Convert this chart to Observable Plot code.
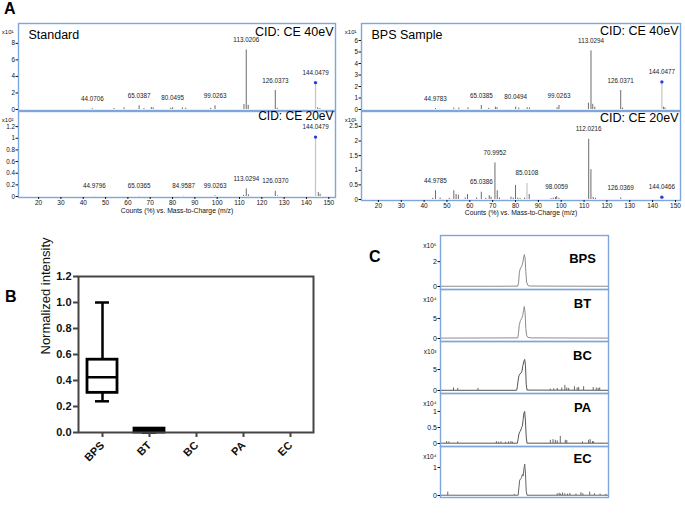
<!DOCTYPE html>
<html><head><meta charset="utf-8">
<script src="https://cdn.jsdelivr.net/npm/d3@7"></script>
<script src="https://cdn.jsdelivr.net/npm/@observablehq/plot@0.6"></script>
<style>
body{margin:0;background:#fff;}
#root{position:relative;width:685px;height:515px;overflow:hidden;font-family:"Liberation Sans",Arial,sans-serif;background:#fff;}
#root svg{position:absolute;}
.plabel{position:absolute;font-weight:bold;font-size:16px;line-height:16px;color:#000;}
</style></head><body><div id="root">
<div class="plabel" style="left:4px;top:1px">A</div>
<div class="plabel" style="left:5px;top:289px">B</div>
<div class="plabel" style="left:369px;top:249px">C</div>
</div>
<script>
// ---------- Panel A data (MS/MS spectra) ----------
const mzTicks = [20,30,40,50,60,70,80,90,100,110,120,130,140,150];

const std40Mz = [44.0706,53.8,58.3,65.0387,67.2,70.5,71.3,79.2,80.0495,84.4,85.9,97.1,99.0263,112.0,113.0206,113.9,126.0373,126.9,144.0479,145.0,146.0];
const std40I  = [0.1,0.12,0.2,0.45,0.12,0.25,0.2,0.15,0.22,0.2,0.15,0.15,0.45,0.6,7.2,0.5,2.3,0.15,3.25,0.2,0.1];
const std40Lab = [44.0706,65.0387,80.0495,99.0263,113.0206,126.0373,144.0479];
const std40Light = [144.0479];

const std20Mz = [44.9796,65.0365,84.9587,99.0263,111.8,113.0294,114.0,126.0370,127.0,144.0479,145.3,146.1];
const std20I  = [0.004,0.004,0.004,0.012,0.02,0.13,0.03,0.09,0.01,1.02,0.07,0.04];
const std20Lab = [44.9796,65.0365,84.9587,99.0263,113.0294,126.0370,144.0479];
const std20Light = [144.0479];

const bps40Mz = [44.9783,53.0,55.2,59.2,65.0385,68.3,71.2,71.9,80.0494,81.4,85.1,86.1,98.2,99.0263,111.9,113.0294,113.8,114.7,126.0371,126.8,144.0477,144.8,145.4];
const bps40I  = [0.08,0.12,0.12,0.15,0.35,0.1,0.2,0.15,0.2,0.12,0.15,0.12,0.15,0.35,0.55,5.1,0.45,0.2,1.65,0.12,2.4,0.2,0.12];
const bps40Lab = [44.9783,65.0385,80.0494,99.0263,113.0294,126.0371,144.0477];
const bps40Light = [144.0477];

const bps20Mz = [43.8,44.9785,47.0,51.0,53.0,54.0,55.0,58.0,59.0,63.0,65.0386,67.0,68.5,69.3,70.9952,72.0,73.0,78.0,79.0,80.0,81.0,82.0,84.0,85.0108,86.0,95.5,96.5,97.5,98.0059,99.0,112.0216,113.0,114.0,115.0,126.0369,144.0466];
const bps20I  = [0.04,0.3,0.05,0.04,0.3,0.17,0.15,0.05,0.17,0.05,0.25,0.04,0.13,0.08,1.25,0.3,0.05,0.08,0.05,0.48,0.05,0.03,0.05,0.55,0.17,0.03,0.05,0.07,0.1,0.04,2.06,1.02,0.07,0.04,0.05,0.08];
const bps20Lab = [44.9785,65.0386,70.9952,85.0108,98.0059,112.0216,126.0369,144.0466];
const bps20Light = [85.0108,144.0466];

// ---------- Panel B data (box plot summary) ----------
const boxCats = ["BPS","BT","BC","PA","EC"];
const boxMin = [0.24,0,0,0,0];
const boxQ1  = [0.305,0,0,0,0];
const boxMed = [0.425,0.01,0,0,0];
const boxQ3  = [0.56,0.03,0,0,0];
const boxMax = [1.0,0.03,0,0,0];
const boxYTicks = [0,0.2,0.4,0.6,0.8,1.0,1.2];

// ---------- Panel C data (EIC chromatograms) ----------
const timeTicks = [2.5,3,3.5,4,4.5,5,5.5,6];
const bpsTrace = [[2.08,0.02],[3.5,0.02],[4.10,0.03],[4.12,0.3],[4.14,1.1],[4.16,1.4],[4.19,1.55],[4.21,1.7],[4.23,1.9],[4.25,2.3],[4.27,2.56],[4.29,2.3],[4.31,1.2],[4.33,0.35],[4.36,0.1],[4.40,0.04],[5.0,0.03],[6.47,0.02]];
const btTrace  = [[2.08,0.1],[4.10,0.15],[4.12,1.5],[4.14,3.5],[4.17,4.5],[4.20,5.0],[4.23,5.8],[4.25,7.0],[4.27,8.0],[4.29,6.5],[4.31,2.5],[4.33,0.8],[4.36,0.3],[4.45,0.15],[6.47,0.1]];
const bcTrace  = [[2.08,0.05],[4.07,0.05],[4.09,1.0],[4.11,2.5],[4.13,3.5],[4.16,4.0],[4.19,4.2],[4.21,4.6],[4.23,5.8],[4.26,7.0],[4.28,7.4],[4.30,6.0],[4.32,1.5],[4.34,0.1],[6.47,0.05]];
const bcSpikes = [[2.42,0.6],[2.53,0.5],[3.06,0.5],[4.95,0.3],[5.04,0.4],[5.13,0.5],[5.25,0.6],[5.33,1.2],[5.38,0.6],[5.43,0.5],[5.58,0.9],[5.65,0.6],[5.69,0.7],[5.82,0.9],[6.07,0.7],[6.15,0.6],[6.20,0.5],[6.24,0.6]];
const paTrace  = [[2.08,0.01],[4.09,0.01],[4.11,0.15],[4.13,0.3],[4.16,0.38],[4.18,0.42],[4.20,0.5],[4.22,0.55],[4.24,0.75],[4.26,0.95],[4.28,1.0],[4.30,0.7],[4.32,0.2],[4.34,0.01],[6.47,0.01]];
const paSpikes = [[2.24,0.06],[2.30,0.05],[2.53,0.05],[3.54,0.06],[3.60,0.04],[3.66,0.05],[3.78,0.04],[3.86,0.05],[3.92,0.06],[3.96,0.04],[4.95,0.1],[5.02,0.12],[5.08,0.1],[5.13,0.08],[5.21,0.22],[5.34,0.1],[5.38,0.09],[5.79,0.05],[5.95,0.1],[5.99,0.12],[6.05,0.06],[6.08,0.05]];
const ecTrace  = [[2.08,0.01],[4.11,0.01],[4.13,0.3],[4.15,0.55],[4.18,0.6],[4.20,0.65],[4.22,0.75],[4.24,0.7],[4.26,0.95],[4.28,1.12],[4.30,0.8],[4.32,0.15],[4.34,0.01],[6.47,0.01]];
const ecSpikes = [[2.27,0.12],[4.01,0.03],[5.13,0.06],[5.18,0.08],[5.22,0.05],[5.27,0.09],[5.33,0.06],[5.40,0.05],[5.46,0.07],[5.62,0.05],[5.75,0.1],[5.80,0.06],[5.98,0.12],[6.10,0.06],[6.25,0.05],[6.40,0.04]];

// ---------- helpers ----------
const root = document.getElementById("root");
const FONT = "Liberation Sans, Arial, Helvetica, sans-serif";
const BLUE = "#7ea6dc";
const STYLE = {fontFamily: FONT, fontSize: "7px", overflow: "visible", background: "transparent", color: "#111"};
const fmtG = d3.format("~g");
function place(svg, left, top) { svg.style.left = left + "px"; svg.style.top = top + "px"; root.appendChild(svg); }

function spectrum(o) {
  const sticks = o.mz.map((m, i) => ({mz: m, v: o.inten[i], light: o.light.includes(m)}));
  const labs = o.labels.map(m => ({mz: m, v: sticks.find(s => s.mz === m).v, t: m.toFixed(4)}));
  const prec = sticks.filter(s => Math.abs(s.mz - 144.05) < 0.1);
  const marks = [
    Plot.ruleX(sticks.filter(s => !s.light), {x: "mz", y1: 0, y2: "v", stroke: "#6b6b6b", strokeWidth: 1}),
    Plot.ruleX(sticks.filter(s => s.light), {x: "mz", y1: 0, y2: "v", stroke: "#c4c4c4", strokeWidth: 1.2}),
    Plot.dot(prec, {x: "mz", y: "v", r: 1.7, fill: "#2a3fd8", stroke: null}),
    Plot.text(labs, {x: "mz", y: "v", text: "t", dy: -10, fontSize: 6.3, fill: "#222", lineAnchor: "middle"}),
    Plot.frame({stroke: BLUE, strokeWidth: 1.4}),
    Plot.axisY({ticks: o.yTicks, tickFormat: fmtG, tickSize: 2.5, tickPadding: 1, fontSize: 6.3, label: null}),
    Plot.text([o.sci], {frameAnchor: "top-left", dx: -5, dy: 9, textAnchor: "end", lineAnchor: "middle", fontSize: 6})
  ];
  if (o.title) marks.push(Plot.text([o.title], {frameAnchor: "top-left", dx: 10, dy: 11, textAnchor: "start", lineAnchor: "middle", fontSize: 12.5, fill: "#000"}));
  marks.push(Plot.text([o.cid], {frameAnchor: "top-right", dx: -2, dy: o.cidDy, textAnchor: "end", lineAnchor: "middle", fontSize: o.cidSize, fill: "#000"}));
  if (o.xAxis) {
    marks.push(Plot.axisX({ticks: mzTicks, tickSize: 2, tickPadding: 0.5, fontSize: 6.5, label: null}));
    marks.push(Plot.text(["Counts (%) vs. Mass-to-Charge (m/z)"], {frameAnchor: "bottom", dy: o.xlabDy, lineAnchor: "middle", fontSize: 6.8}));
  }
  const svg = Plot.plot({
    width: o.width, height: o.height,
    marginLeft: o.mL, marginRight: o.mR, marginTop: o.mT, marginBottom: o.mB,
    x: {domain: o.xDom, ...(o.xAxis ? {} : {axis: null})},
    y: {domain: o.yDom, insetBottom: 1},
    style: STYLE,
    marks
  });
  place(svg, o.left, o.top);
}

// Panel A left
spectrum({left: 0, top: 0, width: 345, height: 111, mL: 18, mR: 10, mT: 23, mB: 1,
  xDom: [11, 153], yDom: [0, 10.4], yTicks: [0,2,4,6,8], sci: "x10¹",
  mz: std40Mz, inten: std40I, labels: std40Lab, light: std40Light,
  title: "Standard", cid: "CID: CE 40eV", cidDy: 8, cidSize: 12.5, xAxis: false});
spectrum({left: 0, top: 110, width: 345, height: 105, mL: 18, mR: 10, mT: 1, mB: 18,
  xDom: [11, 153], yDom: [0, 1.46], yTicks: [0,0.2,0.4,0.6,0.8,1,1.2], sci: "x10²",
  mz: std20Mz, inten: std20I, labels: std20Lab, light: std20Light,
  title: null, cid: "CID: CE 20eV", cidDy: 5, cidSize: 12, xAxis: true, xlabDy: 13});
// Panel A right
spectrum({left: 345, top: 0, width: 340, height: 111, mL: 16, mR: 5, mT: 23, mB: 1,
  xDom: [12.6, 152.2], yDom: [0, 7.48], yTicks: [0,1,2,3,4,5,6], sci: "x10¹",
  mz: bps40Mz, inten: bps40I, labels: bps40Lab, light: bps40Light,
  title: "BPS Sample", cid: "CID: CE 40eV", cidDy: 7, cidSize: 12.5, xAxis: false});
spectrum({left: 345, top: 110, width: 340, height: 110, mL: 16, mR: 5, mT: 1, mB: 20,
  xDom: [12.6, 152.2], yDom: [0, 3.01], yTicks: [0,0.5,1,1.5,2,2.5], sci: "x10¹",
  mz: bps20Mz, inten: bps20I, labels: bps20Lab, light: bps20Light,
  title: null, cid: "CID: CE 20eV", cidDy: 6, cidSize: 12.5, xAxis: true, xlabDy: 12});

// ---------- Panel B ----------
const box = boxCats.map((c, i) => ({c, min: boxMin[i], q1: boxQ1[i], med: boxMed[i], q3: boxQ3[i], max: boxMax[i]}))
  .filter(d => d.max > 0);
const svgB = Plot.plot({
  width: 320, height: 250, marginLeft: 78, marginRight: 7, marginTop: 11, marginBottom: 83,
  x: {type: "band", domain: boxCats, paddingInner: 0.362, paddingOuter: 0.181},
  y: {domain: [0, 1.2]},
  style: {...STYLE, fontSize: "11px"},
  marks: [
    Plot.ruleX(box, {x: "c", y1: "q3", y2: "max", stroke: "#000", strokeWidth: 2.5}),
    Plot.ruleX(box, {x: "c", y1: "min", y2: "q1", stroke: "#000", strokeWidth: 2.5}),
    Plot.barY(box, {x: "c", y1: "q1", y2: "q3", fill: d => (d.q3 - d.q1 < 0.05 ? "#000" : "#fff"), stroke: "#000", strokeWidth: 2.8}),
    Plot.tickY(box, {x: "c", y: "med", stroke: "#000", strokeWidth: 2.5}),
    Plot.tickY(box, {x: "c", y: "max", stroke: "#000", strokeWidth: 2.5, insetLeft: 8, insetRight: 8}),
    Plot.tickY(box, {x: "c", y: "min", stroke: "#000", strokeWidth: 2.5, insetLeft: 8, insetRight: 8}),
    Plot.frame({stroke: "#444", strokeWidth: 2}),
    Plot.axisY({ticks: boxYTicks, tickFormat: d3.format(".1f"), tickSize: 5, tickPadding: 2, strokeWidth: 2, stroke: "#444", fontSize: 11, fontWeight: "bold", label: null}),
    Plot.axisX({tickRotate: -45, tickSize: 5, tickPadding: 6, strokeWidth: 2, stroke: "#444", fontSize: 11, fontWeight: "bold", label: null}),
    Plot.text(["Normalized intensity"], {frameAnchor: "left", rotate: -90, dx: -33, fontSize: 13, fill: "#111"})
  ]
});
place(svgB, 0, 265);

// ---------- Panel C ----------
function chrom(o) {
  const marks = [
    Plot.line(o.trace, {x: d => d[0], y: d => d[1], stroke: o.color, strokeWidth: 1}),
    Plot.frame({stroke: BLUE, strokeWidth: 1.4}),
    Plot.axisY({ticks: o.yTicks, tickFormat: fmtG, tickSize: 2.5, tickPadding: 1, fontSize: 7, label: null}),
    Plot.text([o.sci], {frameAnchor: "top-left", dx: -4, dy: 10, textAnchor: "end", lineAnchor: "middle", fontSize: 6.5}),
    Plot.text([o.name], {frameAnchor: "top-right", dx: -26, dy: o.nameDy, textAnchor: "middle", lineAnchor: "middle", fontSize: 13, fontWeight: "bold", fill: "#000"})
  ];
  if (o.spikes) marks.splice(1, 0, Plot.ruleX(o.spikes, {x: d => d[0], y1: 0, y2: d => d[1], stroke: "#555", strokeWidth: 0.9}));
  if (o.xAxis) {
    marks.push(Plot.axisX({ticks: timeTicks, tickFormat: fmtG, tickSize: 2, tickPadding: 0.5, fontSize: 7, label: null}));
    marks.push(Plot.text(["Counts vs. Acquisition Time (min)"], {frameAnchor: "bottom", dy: 14, lineAnchor: "middle", fontSize: 7}));
  }
  const svg = Plot.plot({
    width: 245, height: o.height, marginLeft: 70, marginRight: 7, marginTop: 0, marginBottom: o.mB,
    x: {domain: [2.08, 6.47], ...(o.xAxis ? {} : {axis: null})},
    y: {domain: o.yDom, insetBottom: o.inset},
    style: STYLE,
    marks
  });
  place(svg, 370, o.top);
}
chrom({top: 235, height: 54, mB: 0, yDom: [0, 4.1], inset: 3, yTicks: [0,2], sci: "x10⁶", name: "BPS", nameDy: 23, trace: bpsTrace, color: "#8c8c8c"});
chrom({top: 289, height: 52, mB: 0, yDom: [0, 12.25], inset: 3, yTicks: [0,5], sci: "x10⁴", name: "BT", nameDy: 14, trace: btTrace, color: "#8c8c8c"});
chrom({top: 341, height: 52, mB: 0, yDom: [0, 11.67], inset: 3, yTicks: [0,5], sci: "x10³", name: "BC", nameDy: 14, trace: bcTrace, spikes: bcSpikes, color: "#555"});
chrom({top: 393, height: 53, mB: 0, yDom: [0, 1.56], inset: 3, yTicks: [0,0.5,1], sci: "x10⁴", name: "PA", nameDy: 14, trace: paTrace, spikes: paSpikes, color: "#555"});
chrom({top: 446, height: 69, mB: 18, yDom: [0, 1.75], inset: 2, yTicks: [0,1], sci: "x10⁴", name: "EC", nameDy: 12, trace: ecTrace, spikes: ecSpikes, color: "#666"});
</script>
</body></html>
